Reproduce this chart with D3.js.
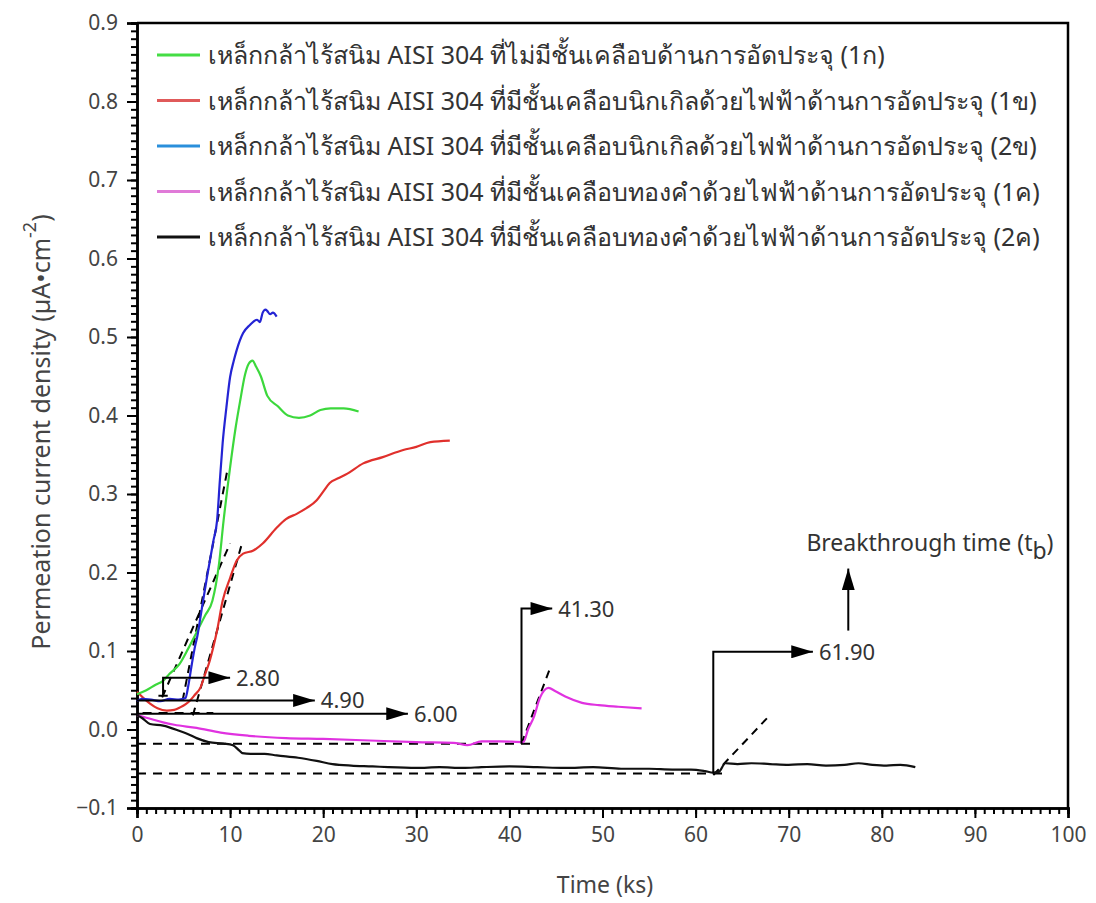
<!DOCTYPE html>
<html>
<head>
<meta charset="utf-8">
<script src="https://cdn.jsdelivr.net/npm/d3@7"></script>
<style>
  body { margin: 0; background: #fff; }
  text { font-family: "Noto Sans", "Open Sans", sans-serif; fill: #333; }
</style>
</head>
<body>
<svg id="chart" width="1096" height="903"></svg>
<script>
// series labels (legend order)
var seriesNames = [
    "เหล็กกล้าไร้สนิม AISI 304 ที่ไม่มีชั้นเคลือบด้านการอัดประจุ (1ก)",
    "เหล็กกล้าไร้สนิม AISI 304 ที่มีชั้นเคลือบนิกเกิลด้วยไฟฟ้าด้านการอัดประจุ (1ข)",
    "เหล็กกล้าไร้สนิม AISI 304 ที่มีชั้นเคลือบนิกเกิลด้วยไฟฟ้าด้านการอัดประจุ (2ข)",
    "เหล็กกล้าไร้สนิม AISI 304 ที่มีชั้นเคลือบทองคำด้วยไฟฟ้าด้านการอัดประจุ (1ค)",
    "เหล็กกล้าไร้สนิม AISI 304 ที่มีชั้นเคลือบทองคำด้วยไฟฟ้าด้านการอัดประจุ (2ค)"
];
var lineColors = ["#3cd83c", "#e0302c", "#2424d4", "#e032e0", "#111111"];
var legendColors = ["#44dd44", "#e05a5a", "#2a8fdb", "#e07ad8", "#111111"];

// time (ks) / current density (µA/cm2)
var t1a = [0, 1, 2, 2.8, 3.5, 4.6, 5.5, 6.5, 7.3, 8.1, 8.8, 9.3, 10, 10.6, 11.1, 11.6, 12.0, 12.4, 12.8, 13.3, 14, 15.1, 16.2, 17.4, 18.6, 19.7, 20.8, 22.2, 23.8];
var v1a = [0.045, 0.05, 0.057, 0.062, 0.071, 0.084, 0.103, 0.126, 0.145, 0.164, 0.21, 0.266, 0.334, 0.385, 0.42, 0.452, 0.466, 0.47, 0.462, 0.45, 0.425, 0.412, 0.40, 0.397, 0.40, 0.407, 0.409, 0.409, 0.405];

var t1b = [0, 0.7, 1.4, 2.2, 3.2, 4.0, 4.6, 5.2, 5.7, 6.2, 6.8, 7.3, 7.8, 8.2, 8.6, 9.2, 10.0, 10.7, 11.4, 12.5, 13.5, 15.0, 16.0, 17.2, 18.2, 19.3, 20.0, 20.7, 21.6, 22.6, 24.3, 26.4, 28.6, 30.0, 31.5, 33.6];
var v1b = [0.048, 0.04, 0.033, 0.027, 0.024, 0.025, 0.028, 0.032, 0.037, 0.044, 0.053, 0.07, 0.087, 0.105, 0.126, 0.164, 0.193, 0.215, 0.224, 0.228, 0.237, 0.257, 0.268, 0.275, 0.282, 0.292, 0.303, 0.314, 0.32, 0.326, 0.339, 0.347, 0.356, 0.36, 0.366, 0.368];

var t2b = [0, 0.5, 1.5, 2.5, 3.5, 4.5, 5.2, 5.5, 5.9, 6.2, 6.5, 6.8, 7.5, 8.2, 8.6, 8.9, 9.2, 9.6, 10.0, 10.4, 10.7, 11.4, 12.1, 12.9, 13.2, 13.5, 13.8, 14.0, 14.3, 14.6, 15.0];
var v2b = [0.036, 0.039, 0.038, 0.036, 0.039, 0.038, 0.040, 0.055, 0.084, 0.104, 0.12, 0.142, 0.193, 0.24, 0.266, 0.317, 0.365, 0.41, 0.449, 0.47, 0.483, 0.505, 0.515, 0.522, 0.519, 0.531, 0.535, 0.533, 0.529, 0.531, 0.526];

var t1c = [0, 1, 2.8, 4, 6.4, 9, 12, 16, 20, 25, 30, 34, 35.5, 37, 39, 41.5, 42.0, 42.6, 43.3, 44.2, 44.9, 46, 47.8, 49.6, 51.7, 54.2];
var v1c = [0.018, 0.015, 0.009, 0.006, 0.002, -0.004, -0.008, -0.011, -0.012, -0.014, -0.016, -0.017, -0.020, -0.015, -0.015, -0.016, 0.0, 0.015, 0.041, 0.053, 0.049, 0.042, 0.034, 0.031, 0.029, 0.027];

var t2c = [0, 0.5, 1.4, 2.8, 4.6, 5.5, 6.4, 7.7, 9.3, 10.3, 11.0, 11.3, 12.2, 13.7, 15.0, 17.3, 19.3, 21.0, 23.0, 25.3, 27.0, 30.0, 32.5, 35.0, 37.0, 40.0, 43.0, 46.0, 49.0, 52.0, 55.0, 57.5, 59.5, 61.0, 61.9, 62.5, 63.2, 64.5, 66, 68, 70, 72, 74, 76, 77.5, 79, 80.5, 82, 83.6];
var v2c = [0.018, 0.015, 0.007, 0.005, -0.002, -0.006, -0.011, -0.016, -0.018, -0.02, -0.027, -0.030, -0.031, -0.031, -0.033, -0.036, -0.040, -0.044, -0.046, -0.047, -0.048, -0.049, -0.048, -0.049, -0.048, -0.047, -0.048, -0.049, -0.048, -0.050, -0.050, -0.051, -0.051, -0.053, -0.055, -0.054, -0.043, -0.044, -0.043, -0.044, -0.045, -0.044, -0.046, -0.045, -0.043, -0.045, -0.046, -0.045, -0.048];

var seriesT = [t1a, t1b, t2b, t1c, t2c];
var seriesV = [v1a, v1b, v2b, v1c, v2c];
// draw order: red first, blue on top of green
var drawOrder = [1, 0, 2, 3, 4];

// tangent lines (dashed), [t1, v1, t2, v2]
var tangents = [
    [2.7, 0.041, 10.0, 0.237],
    [4.9, 0.037, 9.7, 0.33],
    [6.0, 0.018, 11.3, 0.238],
    [41.3, -0.018, 44.4, 0.079],
    [61.9, -0.058, 67.8, 0.016]
];
// dashed baselines [tStart, tEnd, v]
var baselines = [
    [0.6, 8.2, 0.021],
    [0, 42.7, -0.018],
    [0, 62.9, -0.056]
];
// breakthrough arrows: polyline points ending with an arrow head
var arrowPaths = [
    [[2.8, 0.043], [2.8, 0.066], [10.0, 0.066]],
    [[0, 0.037], [19.1, 0.037]],
    [[0, 0.020], [29.1, 0.020]],
    [[41.3, -0.018], [41.3, 0.154], [44.6, 0.154]],
    [[61.9, -0.056], [61.9, 0.099], [72.6, 0.099]],
    [[76.4, 0.126], [76.4, 0.205]]
];
var arrowLabels = ["2.80", "4.90", "6.00", "41.30", "61.90"];

var svg = d3.select("#chart");
var plotLeft = 137, plotRight = 1068, plotTop = 23, plotBottom = 808;

var x = d3.scaleLinear().domain([0, 100]).range([plotLeft, plotRight]);
var y = d3.scaleLinear().domain([-0.1, 0.9]).range([plotBottom, plotTop]);

svg.append("defs").append("marker")
    .attr("id", "head")
    .attr("markerUnits", "userSpaceOnUse")
    .attr("viewBox", "0 0 20 12")
    .attr("refX", 20).attr("refY", 6)
    .attr("markerWidth", 22).attr("markerHeight", 13)
    .attr("orient", "auto")
    .append("path")
    .attr("d", "M0,0 L20,6 L0,12 Z")
    .attr("fill", "#000");

// axes: minor ticks first, then majors
var xMinor = d3.axisBottom(x).tickValues(d3.range(0, 101, 1)).tickSize(6).tickFormat("");
var xMajor = d3.axisBottom(x).tickValues(d3.range(0, 101, 10)).tickSize(10).tickPadding(9).tickFormat(d3.format("d"));
var yMinor = d3.axisLeft(y).tickValues(d3.range(-10, 91, 1).map(d => d / 100)).tickSize(6).tickFormat("");
var yMajor = d3.axisLeft(y).tickValues(d3.range(-1, 10, 1).map(d => d / 10)).tickSize(10).tickPadding(9).tickFormat(d3.format(".1f"));

[xMinor, xMajor].forEach(function (ax) {
    svg.append("g").attr("class", "axis")
        .attr("transform", "translate(0," + plotBottom + ")")
        .call(ax);
});
[yMinor, yMajor].forEach(function (ax) {
    svg.append("g").attr("class", "axis")
        .attr("transform", "translate(" + plotLeft + ",0)")
        .call(ax);
});
svg.selectAll(".axis .domain").attr("stroke", "#000").attr("stroke-width", 2.5);
svg.selectAll(".axis .tick line").attr("stroke", "#000").attr("stroke-width", 2);
svg.selectAll(".axis text").style("font-size", "21px").style("fill", "#444").attr("font-family", null);

// top and right frame
svg.append("path")
    .attr("d", "M" + plotLeft + "," + plotTop + "H" + plotRight + "V" + plotBottom)
    .attr("fill", "none").attr("stroke", "#000").attr("stroke-width", 2.5);

// axis titles
svg.append("text")
    .attr("x", 605).attr("y", 893)
    .attr("text-anchor", "middle")
    .style("font-size", "23px").style("fill", "#444")
    .text("Time (ks)");

var yTitle = svg.append("text")
    .attr("transform", "translate(50,432) rotate(-90)")
    .attr("text-anchor", "middle")
    .style("font-size", "25px").style("fill", "#444");
yTitle.append("tspan").text("Permeation current density (µA•cm");
yTitle.append("tspan").attr("dy", -14).style("font-size", "18px").text("-2");
yTitle.append("tspan").attr("dy", 14).text(")");

// dashed helpers
svg.selectAll(".tangent").data(tangents).enter().append("line")
    .attr("class", "tangent")
    .attr("x1", d => x(d[0])).attr("y1", d => y(d[1]))
    .attr("x2", d => x(d[2])).attr("y2", d => y(d[3]))
    .attr("stroke", "#000").attr("stroke-width", 2).attr("stroke-dasharray", "8,6");
svg.selectAll(".baseline").data(baselines).enter().append("line")
    .attr("class", "baseline")
    .attr("x1", d => x(d[0])).attr("y1", d => y(d[2]))
    .attr("x2", d => x(d[1])).attr("y2", d => y(d[2]))
    .attr("stroke", "#000").attr("stroke-width", 2).attr("stroke-dasharray", "9,7");

// curves
var line = d3.line().x(d => x(d[0])).y(d => y(d[1])).curve(d3.curveMonotoneX);
drawOrder.forEach(function (i) {
    var pts = seriesT[i].map((t, k) => [t, seriesV[i][k]]);
    svg.append("path")
        .datum(pts)
        .attr("d", line)
        .attr("fill", "none")
        .attr("stroke", lineColors[i])
        .attr("stroke-width", 2.2);
});

// arrows
var poly = d3.line().x(d => x(d[0])).y(d => y(d[1]));
svg.selectAll(".arrow").data(arrowPaths).enter().append("path")
    .attr("class", "arrow")
    .attr("d", poly)
    .attr("fill", "none")
    .attr("stroke", "#000").attr("stroke-width", 2)
    .attr("marker-end", "url(#head)");
// small foot under 2.80 marker
svg.append("line")
    .attr("x1", x(2.3)).attr("x2", x(3.3))
    .attr("y1", y(0.043)).attr("y2", y(0.043))
    .attr("stroke", "#000").attr("stroke-width", 2);

arrowLabels.forEach(function (lab, i) {
    var p = arrowPaths[i][arrowPaths[i].length - 1];
    svg.append("text")
        .attr("x", x(p[0]) + 6).attr("y", y(p[1]))
        .attr("dy", "0.36em")
        .style("font-size", "22px").style("fill", "#333")
        .text(lab);
});

var bt = svg.append("text")
    .attr("x", x(71.9)).attr("y", y(0.228))
    .style("font-size", "23px").style("fill", "#333");
bt.append("tspan").text("Breakthrough time (t");
bt.append("tspan").attr("dy", 8).text("b");
bt.append("tspan").attr("dy", -8).text(")");

// legend
var legend = svg.append("g").attr("transform", "translate(157,55)");
seriesNames.forEach(function (name, i) {
    var row = legend.append("g").attr("transform", "translate(0," + (i * 45.5) + ")");
    row.append("line")
        .attr("x1", 0).attr("x2", 43)
        .attr("stroke", legendColors[i]).attr("stroke-width", 3);
    row.append("text")
        .attr("x", 51).attr("dy", "0.36em")
        .style("font-size", "25px").style("fill", "#333")
        .text(name);
});
</script>
</body>
</html>
